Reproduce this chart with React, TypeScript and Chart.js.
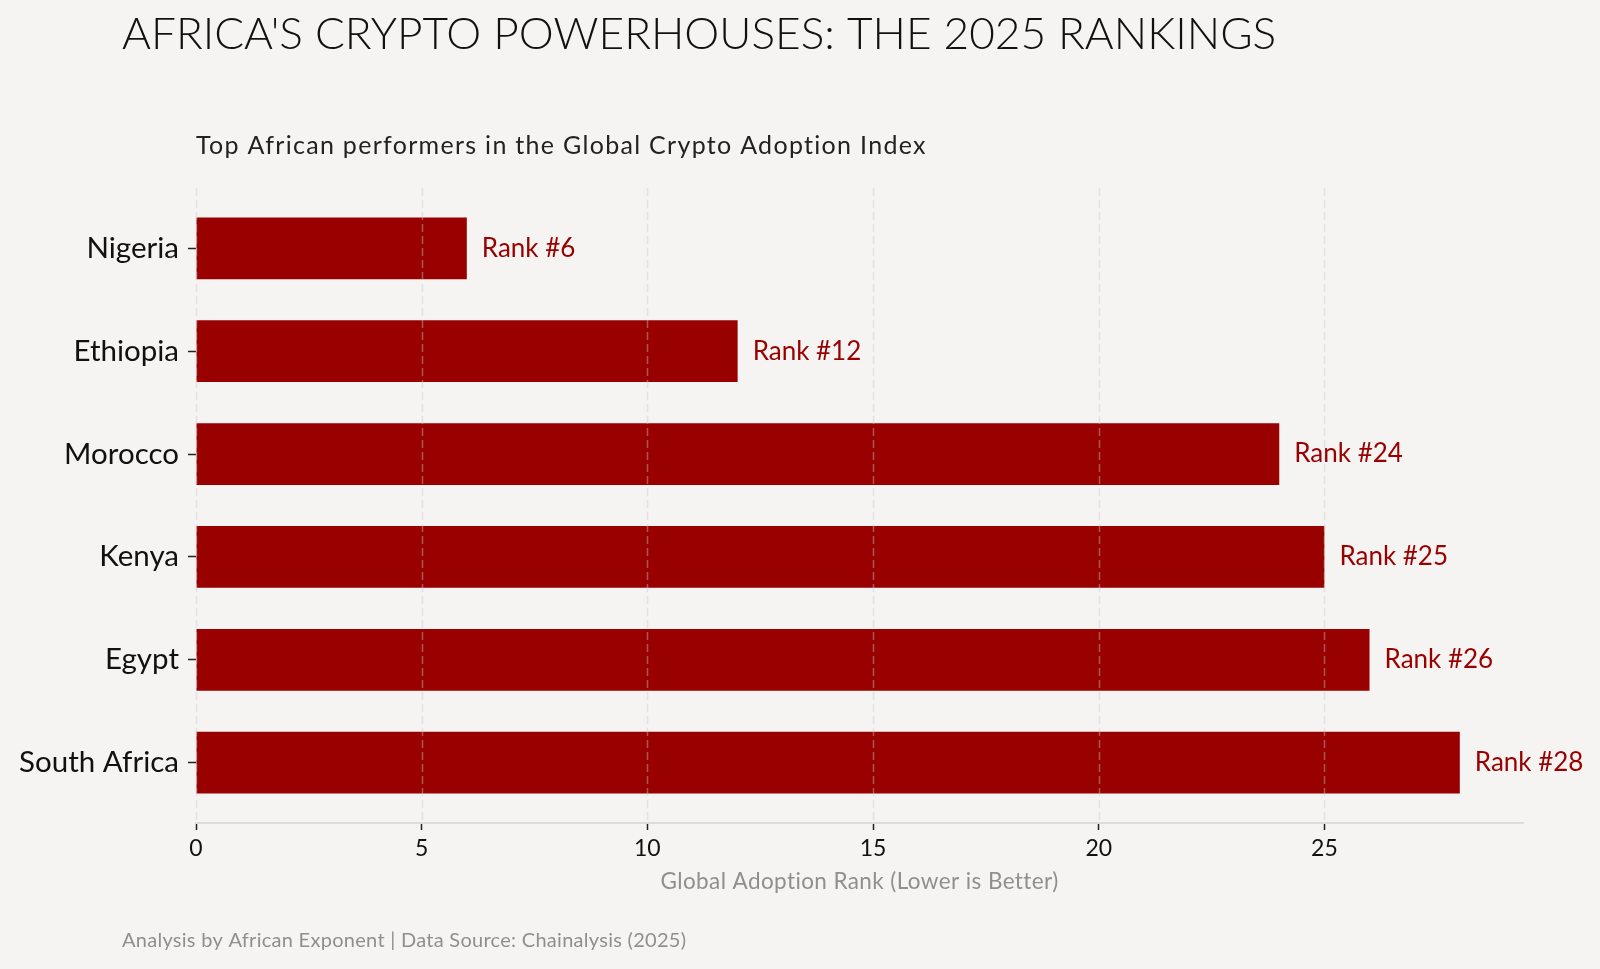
import React, { useEffect, useRef } from "react";
import { Chart, registerables } from "chart.js";

Chart.register(...registerables);

const countries = ["Nigeria", "Ethiopia", "Morocco", "Kenya", "Egypt", "South Africa"];
const ranks = [6, 12, 24, 25, 26, 28];
const xTicks = [0, 5, 10, 15, 20, 25];

const TITLE = "AFRICA'S CRYPTO POWERHOUSES: THE 2025 RANKINGS";
const SUBTITLE = "Top African performers in the Global Crypto Adoption Index";
const XTITLE = "Global Adoption Rank (Lower is Better)";
const FOOTER = "Analysis by African Exponent | Data Source: Chainalysis (2025)";

const FONT = "Lato, 'Open Sans', sans-serif";
const BG = "#f5f4f2";
const RED = "#990000";
const GRID = "rgba(200,200,200,0.42)";

const W = 1600;
const H = 969;

export default function App() {
  const ref = useRef<HTMLCanvasElement | null>(null);

  useEffect(() => {
    document.body.style.margin = "0";
    document.body.style.background = BG;
    const canvas = ref.current;
    if (!canvas) return;

    const textPlugin = {
      id: "texts",
      beforeDraw(chart: any) {
        const ctx = chart.ctx;
        ctx.save();
        ctx.fillStyle = BG;
        ctx.fillRect(0, 0, chart.width, chart.height);
        ctx.restore();
      },
      afterDatasetsDraw(chart: any) {
        // vertical dashed grid lines drawn above the bars
        const ctx = chart.ctx;
        const ca = chart.chartArea;
        const xs = chart.scales.x;
        ctx.save();
        ctx.strokeStyle = GRID;
        ctx.lineWidth = 1.5;
        ctx.setLineDash([8, 4]);
        xs.ticks.forEach((t: any) => {
          const px = Math.round(xs.getPixelForValue(t.value)) + 0.5;
          ctx.beginPath();
          ctx.moveTo(px, ca.top);
          ctx.lineTo(px, ca.bottom);
          ctx.stroke();
        });
        ctx.restore();
      },
      afterDraw(chart: any) {
        const ctx = chart.ctx;
        const ca = chart.chartArea;
        ctx.save();
        ctx.textBaseline = "middle";
        ctx.textAlign = "left";
        ctx.fillStyle = "#111111";
        ctx.font = `300 44.2px ${FONT}`;
        ctx.fillText(TITLE, 122, 35);
        ctx.fillStyle = "#222222";
        ctx.font = `400 25px ${FONT}`;
        (ctx as any).letterSpacing = "1.3px";
        ctx.fillText(SUBTITLE, ca.left, 146);
        (ctx as any).letterSpacing = "0.4px";
        ctx.textAlign = "center";
        ctx.fillStyle = "#8f8f8f";
        ctx.font = `400 22.5px ${FONT}`;
        ctx.fillText(XTITLE, (ca.left + ca.right) / 2, 882);
        ctx.textAlign = "left";
        (ctx as any).letterSpacing = "0.28px";
        ctx.font = `400 20px ${FONT}`;
        ctx.fillText(FOOTER, 122, 941);
        (ctx as any).letterSpacing = "0px";

        // value labels
        const meta = chart.getDatasetMeta(0);
        ctx.fillStyle = RED;
        ctx.font = `400 26px ${FONT}`;
        ctx.textAlign = "left";
        meta.data.forEach((bar: any, i: number) => {
          ctx.fillText(`Rank #${ranks[i]}`, bar.x + 15, bar.y);
        });
        ctx.restore();
      },
    };

    const chart = new Chart(canvas, {
      type: "bar",
      data: {
        datasets: [
          {
            data: ranks.map((v, i) => ({ x: v, y: i })),
            backgroundColor: RED,
            borderWidth: 0,
            barPercentage: 0.6,
            categoryPercentage: 1,
          },
        ],
      },
      options: {
        indexAxis: "y",
        animation: false,
        responsive: false,
        devicePixelRatio: 1,
        layout: { padding: { left: 0, right: 77, top: 188, bottom: 0 } },
        plugins: {
          legend: { display: false },
          tooltip: { enabled: false },
          title: { display: false },
        },
        scales: {
          x: {
            type: "linear",
            min: 0,
            max: 29.4,
            afterBuildTicks(scale: any) {
              scale.ticks = xTicks.map((v) => ({ value: v }));
            },
            afterFit(scale: any) {
              scale.height = H - 823;
            },
            ticks: {
              color: "#111111",
              font: { family: FONT, size: 23 },
              padding: 5,
            },
            grid: {
              drawOnChartArea: false,
              color: GRID,
              tickColor: "#222222",
              tickLength: 7,
              tickWidth: 1.5,
            },
            border: { display: true, color: "#dcdcdc", width: 2 },
          },
          y: {
            type: "linear",
            min: -0.586,
            max: 5.586,
            reverse: true,
            offset: false,
            afterBuildTicks(scale: any) {
              scale.ticks = countries.map((_, i) => ({ value: i }));
            },
            afterFit(scale: any) {
              scale.width = 196;
            },
            ticks: {
              color: "#111111",
              font: { family: FONT, size: 29.5 },
              padding: 9,
              callback: (v: any) => countries[v as number] ?? "",
            },
            grid: {
              offset: false,
              drawOnChartArea: false,
              tickColor: "#222222",
              tickLength: 8,
              tickWidth: 1.5,
            },
            border: { display: false },
          },
        },
      },
      plugins: [textPlugin],
    } as any);

    return () => chart.destroy();
  }, []);

  return (
    <div style={{ width: W, height: H, background: BG }}>
      <canvas ref={ref} width={W} height={H} style={{ display: "block" }} />
    </div>
  );
}
